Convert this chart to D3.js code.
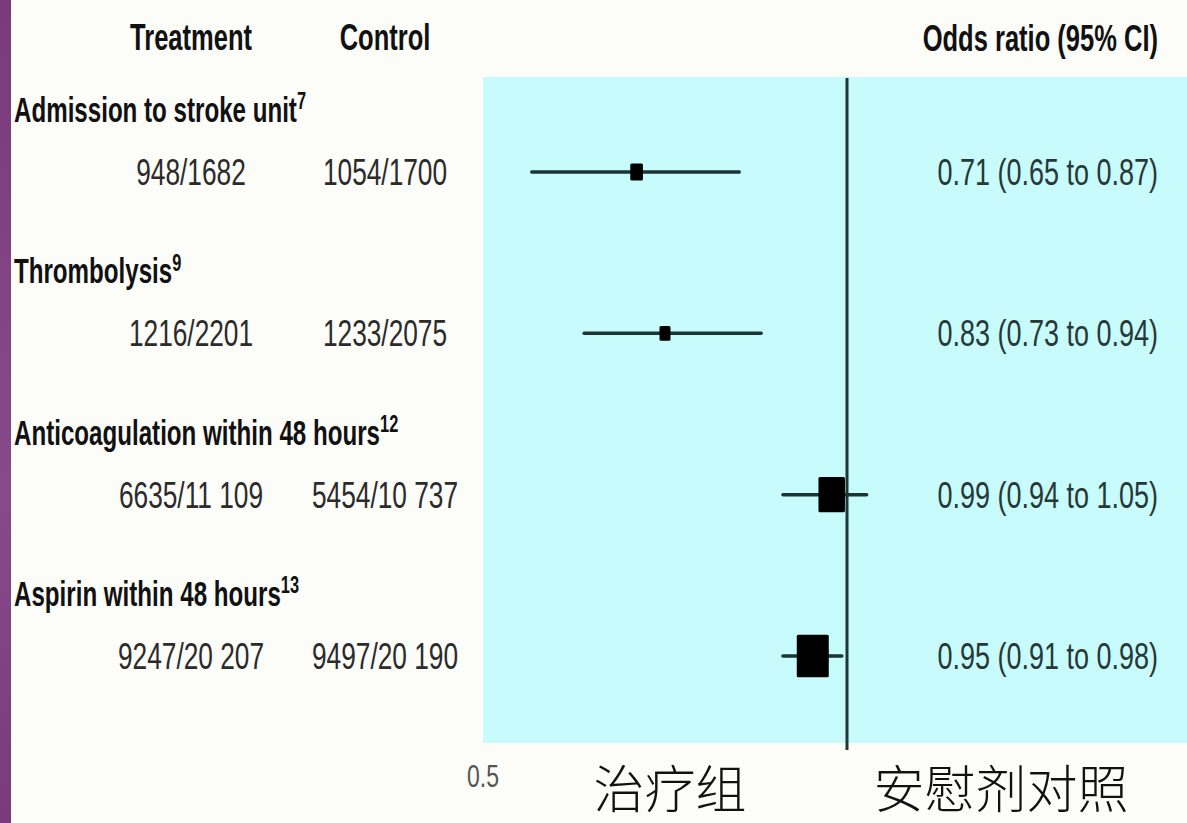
<!DOCTYPE html>
<html>
<head>
<meta charset="utf-8">
<script src="https://cdn.jsdelivr.net/npm/d3@7"></script>
<style>
  html, body { margin: 0; padding: 0; background: #fcfcf9; }
  svg { display: block; }
</style>
</head>
<body>
<svg id="chart" width="1187" height="823"></svg>
<script>
// ---- data ----
const categories = ["Admission to stroke unit", "Thrombolysis", "Anticoagulation within 48 hours", "Aspirin within 48 hours"];
const refs = ["7", "9", "12", "13"];
const treatment = ["948/1682", "1216/2201", "6635/11 109", "9247/20 207"];
const control = ["1054/1700", "1233/2075", "5454/10 737", "9497/20 190"];
const oddsText = ["0.71 (0.65 to 0.87)", "0.83 (0.73 to 0.94)", "0.99 (0.94 to 1.05)", "0.95 (0.91 to 0.98)"];
// plotted positions as drawn in the figure (odds ratio units)
const estimate = [0.711, 0.750, 0.979, 0.953];
const lower = [0.567, 0.639, 0.912, 0.912];
const upper = [0.852, 0.882, 1.027, 0.993];
const weight = [8, 6, 35, 51];
const xTicks = [0.5];
const headers = { treatment: "Treatment", control: "Control", or: "Odds ratio (95% CI)" };
const bottomLabels = ["治疗组", "安慰剂对照"];

// ---- layout ----
const W = 1187, H = 823;
const svg = d3.select("#chart");
const FONT = "'Liberation Sans', Arial, sans-serif";

const x = d3.scaleLinear().domain([0.5, 1]).range([483, 847]);
const y = d3.scalePoint().domain(d3.range(categories.length)).range([172, 656]);
const size = d3.scaleSqrt().domain([0, d3.max(weight)]).range([0, 32]);

// purple strip at left
const grad = svg.append("defs").append("linearGradient").attr("id", "pg")
  .attr("x1", 0).attr("y1", 0).attr("x2", 0).attr("y2", 1);
grad.append("stop").attr("offset", "0%").attr("stop-color", "#7a3a7b");
grad.append("stop").attr("offset", "60%").attr("stop-color", "#864a8a");
grad.append("stop").attr("offset", "100%").attr("stop-color", "#7a3a7b");
svg.append("rect").attr("x", 0).attr("y", 0).attr("width", 11).attr("height", H).attr("fill", "url(#pg)");

// cyan panel
const panelTop = 77, panelBottom = 743;
svg.append("rect")
  .attr("x", x(0.5)).attr("y", panelTop)
  .attr("width", W - x(0.5)).attr("height", panelBottom - panelTop)
  .attr("fill", "#c8fbfb");

// line of no effect
svg.append("line")
  .attr("x1", x(1)).attr("x2", x(1))
  .attr("y1", panelTop + 1).attr("y2", 750)
  .attr("stroke", "#1d3636").attr("stroke-width", 3);

// text helper (condensed look via horizontal scale)
function txt(x0, y0, s, o) {
  const t = svg.append("text")
    .attr("transform", `translate(${x0},${y0}) scale(${o.sx || 0.74},1)`)
    .attr("text-anchor", o.anchor || "start")
    .attr("font-family", o.family || FONT)
    .attr("font-size", o.size)
    .attr("font-weight", o.weight || "normal")
    .attr("fill", o.fill || "#222");
  t.append("tspan").text(s);
  if (o.sup) {
    t.append("tspan").attr("font-size", o.size * 0.68).attr("dy", -o.size * 0.36).text(o.sup);
  }
  return t;
}

// headers
txt(191, 50, headers.treatment, { size: 37, weight: "bold", anchor: "middle", sx: 0.69, fill: "#111" });
txt(385, 50, headers.control, { size: 37, weight: "bold", anchor: "middle", sx: 0.69, fill: "#111" });
txt(1158, 51, headers.or, { size: 37, weight: "bold", anchor: "end", sx: 0.69, fill: "#111" });

// rows
categories.forEach((c, i) => {
  const yy = y(i);
  txt(14, yy - 50, c, { size: 35, weight: "bold", sx: 0.69, fill: "#111", sup: refs[i] });
  txt(191, yy + 13, treatment[i], { size: 36, anchor: "middle", sx: 0.73, fill: "#2b2b2b" });
  txt(385, yy + 13, control[i], { size: 36, anchor: "middle", sx: 0.73, fill: "#2b2b2b" });
  txt(1158, yy + 13, oddsText[i], { size: 36, anchor: "end", sx: 0.75, fill: "#263838" });
});

// CI lines
svg.append("g").selectAll("line").data(categories).join("line")
  .attr("x1", (d, i) => x(lower[i])).attr("x2", (d, i) => x(upper[i]))
  .attr("y1", (d, i) => y(i)).attr("y2", (d, i) => y(i))
  .attr("stroke", "#1c3434").attr("stroke-width", 3.5).attr("stroke-linecap", "round");

// point estimates
svg.append("g").selectAll("rect").data(categories).join("rect")
  .attr("x", (d, i) => x(estimate[i]) - size(weight[i]) / 2)
  .attr("y", (d, i) => y(i) - size(weight[i]) * 1.33 / 2)
  .attr("width", (d, i) => size(weight[i]))
  .attr("height", (d, i) => size(weight[i]) * 1.33)
  .attr("rx", 1.5)
  .attr("fill", "#000");

// axis tick labels
xTicks.forEach(v => {
  txt(x(v), 787, d3.format(".1f")(v), { size: 32, anchor: "middle", sx: 0.72, fill: "#555" });
});

// bottom Chinese labels
svg.append("text").attr("x", 670).attr("y", 808).attr("text-anchor", "middle")
  .attr("font-family", "'Noto Sans CJK SC', sans-serif").attr("font-size", 51).attr("font-weight", 300)
  .attr("fill", "#111").text(bottomLabels[0]);
svg.append("text").attr("x", 1001).attr("y", 808).attr("text-anchor", "middle")
  .attr("font-family", "'Noto Sans CJK SC', sans-serif").attr("font-size", 51).attr("font-weight", 300)
  .attr("fill", "#111").text(bottomLabels[1]);
</script>
</body>
</html>
